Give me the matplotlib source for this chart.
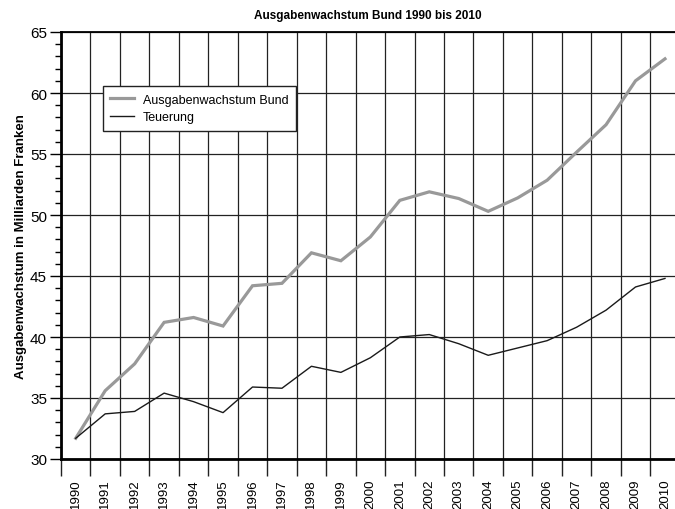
import numpy as np
import matplotlib.pyplot as plt
from matplotlib.ticker import FixedLocator, MultipleLocator

plt.rcParams['font.family'] = ['Liberation Sans', 'DejaVu Sans']

# Jahre und Werte (Milliarden Franken)
jahre = [str(j) for j in range(1990, 2011)]
ausgaben = [31.7, 35.6, 37.8, 41.2, 41.6, 40.9, 44.2, 44.4, 46.9, 46.25, 48.2,
            51.2, 51.9, 51.35, 50.3, 51.4, 52.85, 55.15, 57.4, 61.0, 62.8]
teuerung = [31.7, 33.7, 33.9, 35.4, 34.7, 33.8, 35.9, 35.8, 37.6, 37.1, 38.3,
            40.0, 40.2, 39.45, 38.5, 39.1, 39.7, 40.8, 42.2, 44.1, 44.8]

fig = plt.figure(figsize=(6.75, 5.1), dpi=100)
ax = fig.add_axes([61 / 675, 50 / 510, 614 / 675, 427 / 510])

x = np.arange(len(jahre))
ax.plot(x, ausgaben, color='#999999', lw=2.3, solid_joinstyle='miter',
        label='Ausgabenwachstum Bund', zorder=3)
ax.plot(x, teuerung, color='#1a1a1a', lw=1.0, label='Teuerung', zorder=3)

ax.set_xlim(-0.5, 20.34)
ax.set_ylim(30, 65)

# x-Achse: Striche an den Kategoriegrenzen, Beschriftung in der Mitte
ax.xaxis.set_major_locator(FixedLocator(np.arange(-0.5, 21, 1)))
ax.xaxis.set_minor_locator(FixedLocator(x))
ax.set_xticklabels([], minor=False)
ax.set_xticks(x, jahre, minor=True, rotation=90, fontsize=9.5)
ax.tick_params(axis='x', which='major', length=12, width=1.0, color='#222222')
ax.tick_params(axis='x', which='minor', length=0, pad=14)

# y-Achse
ax.yaxis.set_major_locator(MultipleLocator(5))
ax.yaxis.set_minor_locator(MultipleLocator(1))
ax.tick_params(axis='y', which='major', length=8, width=1.0, labelsize=11, pad=2)
ax.tick_params(axis='y', which='minor', length=4, width=1.0)

ax.grid(True, which='major', color='#222222', lw=0.9)
ax.set_axisbelow(True)

for s in ['left', 'bottom']:
    ax.spines[s].set_linewidth(2.0)
ax.spines['top'].set_linewidth(1.3)
ax.spines['right'].set_visible(False)

ax.set_title('Ausgabenwachstum Bund 1990 bis 2010', fontsize=8.5,
             fontweight='bold', pad=10)
ax.set_ylabel('Ausgabenwachstum in Milliarden Franken', fontsize=9.5,
              fontweight='bold', labelpad=2)

leg = ax.legend(loc='upper left', bbox_to_anchor=(0.068, 0.873),
                borderaxespad=0, fancybox=False, framealpha=1,
                edgecolor='#222222', fontsize=9, handlelength=1.9,
                handletextpad=0.7, borderpad=0.6, labelspacing=0.45)
leg.get_frame().set_linewidth(1.0)

fig.savefig('out.png', dpi=100)
